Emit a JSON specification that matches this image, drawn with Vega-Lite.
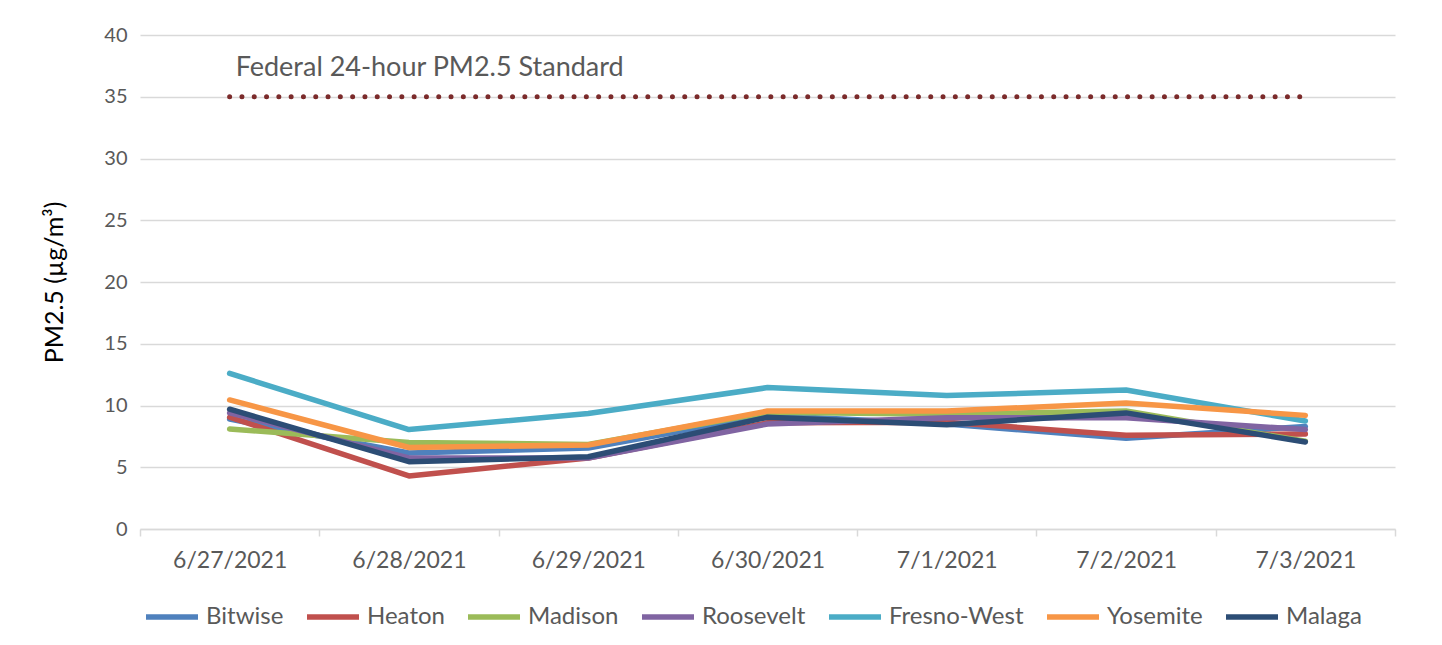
{
  "$schema": "https://vega.github.io/schema/vega-lite/v6.json",
  "width": 1255,
  "height": 494,
  "autosize": {"type": "none"},
  "padding": {"left": 140, "top": 35, "right": 47, "bottom": 116},
  "background": "white",
  "config": {"view": {"stroke": null}, "font": "Lato"},
  "datasets": {
    "std": [
      {"date": "6/27/2021", "pm": 35},
      {"date": "7/3/2021", "pm": 35}
    ],
    "stdlabel": [
      {"date": "6/27/2021", "pm": 37.3, "label": "Federal 24-hour PM2.5 Standard"}
    ],
    "pm": [
      {"date": "6/27/2021", "station": "Bitwise", "pm": 8.9},
      {"date": "6/28/2021", "station": "Bitwise", "pm": 6.15},
      {"date": "6/29/2021", "station": "Bitwise", "pm": 6.55},
      {"date": "6/30/2021", "station": "Bitwise", "pm": 9.2},
      {"date": "7/1/2021", "station": "Bitwise", "pm": 8.5},
      {"date": "7/2/2021", "station": "Bitwise", "pm": 7.35},
      {"date": "7/3/2021", "station": "Bitwise", "pm": 8.3},
      {"date": "6/27/2021", "station": "Heaton", "pm": 9.05},
      {"date": "6/28/2021", "station": "Heaton", "pm": 4.3},
      {"date": "6/29/2021", "station": "Heaton", "pm": 5.75},
      {"date": "6/30/2021", "station": "Heaton", "pm": 8.6},
      {"date": "7/1/2021", "station": "Heaton", "pm": 8.65},
      {"date": "7/2/2021", "station": "Heaton", "pm": 7.6},
      {"date": "7/3/2021", "station": "Heaton", "pm": 7.7},
      {"date": "6/27/2021", "station": "Madison", "pm": 8.1},
      {"date": "6/28/2021", "station": "Madison", "pm": 7.0},
      {"date": "6/29/2021", "station": "Madison", "pm": 6.85},
      {"date": "6/30/2021", "station": "Madison", "pm": 9.45},
      {"date": "7/1/2021", "station": "Madison", "pm": 9.3},
      {"date": "7/2/2021", "station": "Madison", "pm": 9.55},
      {"date": "7/3/2021", "station": "Madison", "pm": 7.1},
      {"date": "6/27/2021", "station": "Roosevelt", "pm": 9.4},
      {"date": "6/28/2021", "station": "Roosevelt", "pm": 5.75},
      {"date": "6/29/2021", "station": "Roosevelt", "pm": 5.75},
      {"date": "6/30/2021", "station": "Roosevelt", "pm": 8.5},
      {"date": "7/1/2021", "station": "Roosevelt", "pm": 9.0},
      {"date": "7/2/2021", "station": "Roosevelt", "pm": 9.0},
      {"date": "7/3/2021", "station": "Roosevelt", "pm": 8.05},
      {"date": "6/27/2021", "station": "Fresno-West", "pm": 12.6},
      {"date": "6/28/2021", "station": "Fresno-West", "pm": 8.05},
      {"date": "6/29/2021", "station": "Fresno-West", "pm": 9.35},
      {"date": "6/30/2021", "station": "Fresno-West", "pm": 11.45},
      {"date": "7/1/2021", "station": "Fresno-West", "pm": 10.8},
      {"date": "7/2/2021", "station": "Fresno-West", "pm": 11.25},
      {"date": "7/3/2021", "station": "Fresno-West", "pm": 8.75},
      {"date": "6/27/2021", "station": "Yosemite", "pm": 10.45},
      {"date": "6/28/2021", "station": "Yosemite", "pm": 6.6},
      {"date": "6/29/2021", "station": "Yosemite", "pm": 6.8},
      {"date": "6/30/2021", "station": "Yosemite", "pm": 9.55},
      {"date": "7/1/2021", "station": "Yosemite", "pm": 9.55},
      {"date": "7/2/2021", "station": "Yosemite", "pm": 10.2},
      {"date": "7/3/2021", "station": "Yosemite", "pm": 9.2},
      {"date": "6/27/2021", "station": "Malaga", "pm": 9.7},
      {"date": "6/28/2021", "station": "Malaga", "pm": 5.45},
      {"date": "6/29/2021", "station": "Malaga", "pm": 5.85},
      {"date": "6/30/2021", "station": "Malaga", "pm": 9.05},
      {"date": "7/1/2021", "station": "Malaga", "pm": 8.45},
      {"date": "7/2/2021", "station": "Malaga", "pm": 9.4},
      {"date": "7/3/2021", "station": "Malaga", "pm": 7.05}
    ]
  },
  "encoding": {
    "x": {
      "field": "date",
      "type": "ordinal",
      "sort": ["6/27/2021", "6/28/2021", "6/29/2021", "6/30/2021", "7/1/2021", "7/2/2021", "7/3/2021"],
      "scale": {"type": "band", "paddingInner": 0, "paddingOuter": 0},
      "axis": {
        "title": null,
        "labelAngle": 0,
        "labelFontSize": 23,
        "labelColor": "#595959",
        "domainColor": "#D9D9D9",
        "domainWidth": 1.5,
        "tickColor": "#D9D9D9",
        "tickWidth": 1.5,
        "tickBand": "extent",
        "tickSize": 7,
        "labelPadding": 13,
        "grid": false
      }
    },
    "y": {
      "field": "pm",
      "type": "quantitative",
      "scale": {"domain": [0, 40]},
      "axis": {
        "values": [0, 5, 10, 15, 20, 25, 30, 35, 40],
        "title": "PM2.5 (µg/m³)",
        "domain": false,
        "ticks": false,
        "labelPadding": 13,
        "labelFontSize": 20,
        "labelColor": "#595959",
        "gridColor": "#D9D9D9",
        "gridWidth": 1.5,
        "titleFontSize": 25,
        "titleFontWeight": "normal",
        "titleColor": "#000000",
        "titlePadding": 36
      }
    }
  },
  "layer": [
    {
      "data": {"name": "std"},
      "mark": {"type": "line", "strokeDash": [0, 12.3], "strokeCap": "round", "strokeWidth": 5, "color": "#7B2B2B"}
    },
    {
      "data": {"name": "stdlabel"},
      "mark": {"type": "text", "align": "left", "baseline": "middle", "dx": 6, "fontSize": 27, "color": "#595959"},
      "encoding": {"text": {"field": "label"}}
    },
    {
      "data": {"name": "pm"},
      "mark": {"type": "line", "strokeWidth": 5.5, "strokeCap": "round", "strokeJoin": "round"},
      "encoding": {
        "color": {
          "field": "station",
          "type": "nominal",
          "sort": ["Bitwise", "Heaton", "Madison", "Roosevelt", "Fresno-West", "Yosemite", "Malaga"],
          "scale": {
            "domain": ["Bitwise", "Heaton", "Madison", "Roosevelt", "Fresno-West", "Yosemite", "Malaga"],
            "range": ["#4F81BD", "#C0504D", "#9BBB59", "#8064A2", "#4BACC6", "#F79646", "#2C4D75"]
          },
          "legend": {
            "orient": "none",
            "legendX": 3,
            "legendY": 553,
            "direction": "horizontal",
            "columns": 7,
            "title": null,
            "symbolType": "stroke",
            "symbolSize": 2704,
            "symbolStrokeWidth": 5.5,
            "labelFontSize": 24,
            "labelColor": "#595959",
            "labelOffset": 5,
            "columnPadding": 12
          }
        }
      }
    }
  ]
}
